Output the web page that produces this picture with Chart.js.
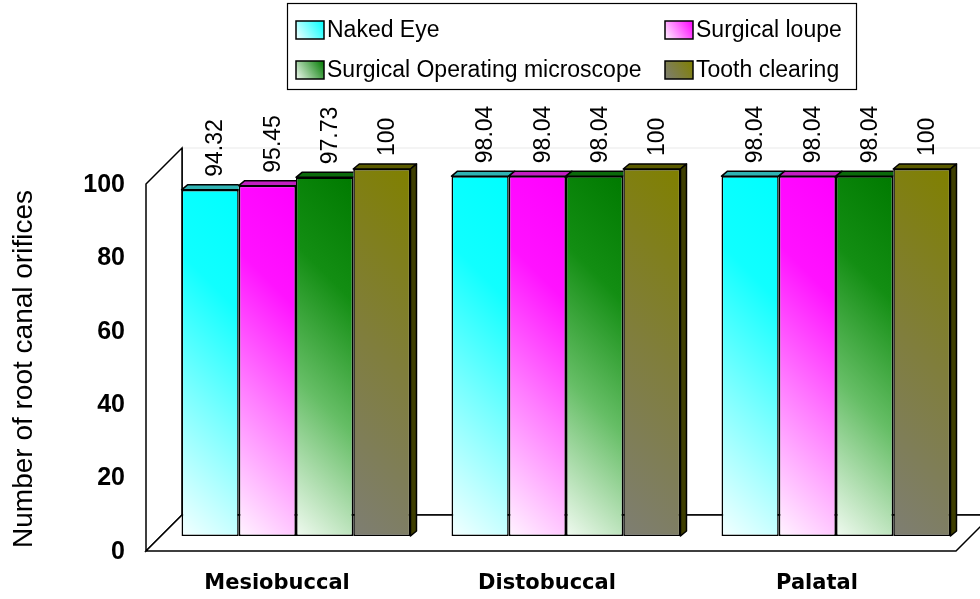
<!DOCTYPE html>
<html>
<head>
<meta charset="utf-8">
<script src="https://cdn.jsdelivr.net/npm/chart.js@4/dist/chart.umd.min.js"></script>
<style>
html,body{margin:0;padding:0;background:#fff;}
#wrap{width:980px;height:599px;}
</style>
</head>
<body>
<div id="wrap"><canvas id="c" width="980" height="599"></canvas></div>
<script>
const categories = ['Mesiobuccal', 'Distobuccal', 'Palatal'];
const seriesNames = ['Naked Eye', 'Surgical loupe', 'Surgical Operating microscope', 'Tooth clearing'];
const nakedEye = [94.32, 98.04, 98.04];
const surgicalLoupe = [95.45, 98.04, 98.04];
const operatingMicroscope = [97.73, 98.04, 98.04];
const toothClearing = [100, 100, 100];
const yTicks = [0, 20, 40, 60, 80, 100];
const yTitle = 'Number of root canal orifices';

const FONT = '"Liberation Sans", Arial, sans-serif';
const palettes = [
  {stops: [[0,'#00FFFF'],[0.3,'#10FFFF'],[0.62,'#7AFFFF'],[1,'#F4FFFF']], top:'#30B4B4', side:'#009999'},
  {stops: [[0,'#FF00FF'],[0.3,'#FF12FF'],[0.62,'#FF7CFF'],[1,'#FFF4FF']], top:'#C21EC2', side:'#990099'},
  {stops: [[0,'#007A00'],[0.3,'#138E13'],[0.62,'#66BE66'],[1,'#F0FAF0']], top:'#0B6A0B', side:'#004C00'},
  {stops: [[0,'#808000'],[0.5,'#807E3C'],[1,'#7E7E73']], top:'#5A5A00', side:'#3E3E00'}
];
const seriesData = [nakedEye, surgicalLoupe, operatingMicroscope, toothClearing];
const CAT_PCT = 0.848;

function barGradient(c) {
  const chart = c.chart, ca = chart.chartArea;
  const pal = palettes[c.datasetIndex];
  if (!ca || c.dataIndex === undefined) return pal.stops[0][1];
  const xs = chart.scales.x, ys = chart.scales.y;
  const catW = (xs.right - xs.left) / categories.length;
  const barW = catW * CAT_PCT / seriesNames.length;
  const cx = xs.getPixelForValue(c.dataIndex);
  const left = cx - barW * seriesNames.length / 2 + c.datasetIndex * barW;
  const right = left + barW;
  const top = ys.getPixelForValue(seriesData[c.datasetIndex][c.dataIndex]);
  const bottom = ys.getPixelForValue(0);
  const H = bottom - top;
  const D = (barW + H) / 2;
  const g = chart.ctx.createLinearGradient(right, top, right - D, top + D);
  pal.stops.forEach(s => g.addColorStop(s[0], s[1]));
  return g;
}

const DF = 15, DB = 21;   // front / back depth of the floor & walls
const BX = 6, BY = 5;     // bar depth

const scene3d = {
  id: 'scene3d',
  beforeDatasetsDraw(chart) {
    const ctx = chart.ctx, ca = chart.chartArea;
    const ys = chart.scales.y;
    const yT = ys.getPixelForValue(ys.max), yB = ys.getPixelForValue(0);
    const L = ca.left, R = ca.right;
    ctx.save();
    ctx.lineWidth = 1.5; ctx.fillStyle = '#fff';
    ctx.fillRect(L + DB, yT - DB, R - L, yB - yT);
    ctx.strokeStyle = '#f0f0f0';
    ctx.beginPath(); ctx.moveTo(L + DB, yT - DB); ctx.lineTo(R + DB, yT - DB); ctx.stroke();
    ctx.strokeStyle = '#000';
    ctx.beginPath(); ctx.moveTo(L + DB, yT - DB); ctx.lineTo(L + DB, yB - DB); ctx.lineTo(R + DB, yB - DB); ctx.stroke();
    ctx.beginPath(); ctx.moveTo(L - DF, yT + DF); ctx.lineTo(L + DB, yT - DB); ctx.lineTo(L + DB, yB - DB); ctx.lineTo(L - DF, yB + DF); ctx.closePath(); ctx.fill(); ctx.stroke();
    ctx.beginPath(); ctx.moveTo(L - DF, yB + DF); ctx.lineTo(L + DB, yB - DB); ctx.lineTo(R + DB, yB - DB); ctx.lineTo(R - DF, yB + DF); ctx.closePath(); ctx.fill(); ctx.stroke();
    ctx.restore();
  },
  afterDatasetsDraw(chart) {
    const ctx = chart.ctx;
    const n = seriesNames.length;
    ctx.save();
    ctx.lineWidth = 1.5; ctx.strokeStyle = '#000'; ctx.lineJoin = 'round';
    for (let j = 0; j < categories.length; j++) {
      for (let i = 0; i < n; i++) {
        const el = chart.getDatasetMeta(i).data[j];
        const xl = el.x - el.width / 2, xr = el.x + el.width / 2, y = el.y, base = el.base;
        ctx.save();
        if (i < n - 1) {
          const nx = chart.getDatasetMeta(i + 1).data[j];
          if (nx.y < y - 0.5) { ctx.beginPath(); ctx.rect(0, 0, xr, chart.height); ctx.clip(); }
        }
        ctx.fillStyle = palettes[i].top;
        ctx.beginPath(); ctx.moveTo(xl, y); ctx.lineTo(xl + BX, y - BY); ctx.lineTo(xr + BX, y - BY); ctx.lineTo(xr, y); ctx.closePath();
        ctx.fill(); ctx.stroke();
        ctx.restore();
        if (i === n - 1) {
          ctx.fillStyle = palettes[i].side;
          ctx.beginPath(); ctx.moveTo(xr, y); ctx.lineTo(xr + BX, y - BY); ctx.lineTo(xr + BX, base - BY); ctx.lineTo(xr, base); ctx.closePath();
          ctx.fill(); ctx.stroke();
        }
      }
    }
    // value labels
    ctx.fillStyle = '#000';
    ctx.font = '23px ' + FONT;
    ctx.textAlign = 'left'; ctx.textBaseline = 'middle';
    for (let i = 0; i < n; i++) {
      const meta = chart.getDatasetMeta(i);
      meta.data.forEach((el, j) => {
        const v = chart.data.datasets[i].data[j];
        ctx.save();
        ctx.translate(el.x + 6, el.y - 13);
        ctx.rotate(-Math.PI / 2);
        ctx.fillText(String(v), 0, 0);
        ctx.restore();
      });
    }
    ctx.restore();
  },
  afterDraw(chart) {
    const ctx = chart.ctx;
    ctx.save();
    // y axis title (drawn at the front plane of the left wall)
    ctx.fillStyle = '#000';
    ctx.font = '28px ' + FONT;
    ctx.textAlign = 'center'; ctx.textBaseline = 'middle';
    ctx.translate(24, 369);
    ctx.rotate(-Math.PI / 2);
    ctx.fillText(yTitle, 0, 0);
    ctx.restore();

    ctx.save();
    ctx.lineWidth = 1.2; ctx.strokeStyle = '#000';
    ctx.strokeRect(287.5, 3.5, 569, 86);
    const pos = [[296, 30], [665, 30], [296, 70], [665, 70]];
    ctx.font = '23px ' + FONT;
    ctx.textBaseline = 'middle'; ctx.textAlign = 'left';
    chart.data.datasets.forEach((ds, i) => {
      const [x, y] = pos[i];
      const w = 28, h = 18, t = y - h / 2;
      const g = ctx.createLinearGradient(x + w, t, x, t + h);
      g.addColorStop(0, palettes[i].stops[0][1]);
      g.addColorStop(1, palettes[i].stops[palettes[i].stops.length - 1][1]);
      ctx.fillStyle = g;
      ctx.fillRect(x, t, w, h);
      ctx.lineWidth = 1.5;
      ctx.strokeRect(x, t, w, h);
      ctx.fillStyle = '#000';
      ctx.fillText(ds.label, x + w + 3, y + 1);
    });
    ctx.restore();
  }
};

new Chart(document.getElementById('c'), {
  type: 'bar',
  data: {
    labels: categories,
    datasets: seriesNames.map((name, i) => ({
      label: name,
      data: seriesData[i],
      backgroundColor: barGradient,
      borderColor: '#000',
      borderWidth: 1.6,
      borderSkipped: false,
      categoryPercentage: CAT_PCT,
      barPercentage: 1.0
    }))
  },
  options: {
    responsive: false,
    animation: false,
    devicePixelRatio: 1,
    layout: {padding: {left: 0, right: 9, top: 169, bottom: 0}},
    plugins: {legend: {display: false}, tooltip: {enabled: false}},
    scales: {
      x: {
        grid: {display: false, drawTicks: false},
        border: {display: false},
        ticks: {color: '#000', font: {family: '"DejaVu Sans", sans-serif', weight: 'bold', size: 21}, padding: 35, labelOffset: -19},
        afterFit(s) { s.height = 63; }
      },
      y: {
        min: 0, max: 100,
        afterBuildTicks(s) { s.ticks = yTicks.map(v => ({value: v})); },
        grid: {display: false, drawTicks: false},
        border: {display: false},
        ticks: {color: '#000', font: {family: FONT, weight: 'bold', size: 25}, padding: 36, labelOffset: 16},
        title: {display: false},
        afterFit(s) { s.width = 161; }
      }
    }
  },
  plugins: [scene3d]
});
</script>
</body>
</html>
